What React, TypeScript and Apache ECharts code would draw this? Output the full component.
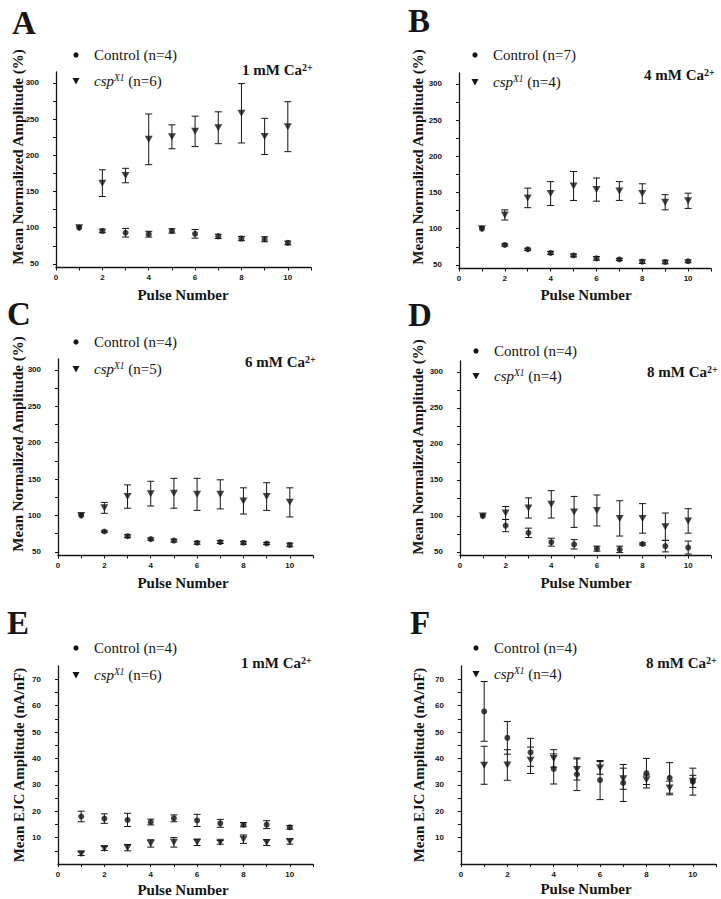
import React, { useEffect, useRef } from "react";
import * as echarts from "echarts";

// ---------- data ----------
const pulses = [1, 2, 3, 4, 5, 6, 7, 8, 9, 10];

// Panel A: 1 mM Ca2+ (normalized %)
const aCtrlMean = [100, 95.5, 93, 91, 95.5, 91.5, 88, 85, 84, 79];
const aCtrlErr = [0, 2.5, 6, 4, 3, 6, 3, 3, 3.5, 2.5];
const aCspMean = [100, 161.5, 172, 222, 225.5, 233, 238, 258, 226, 239.5];
const aCspErr = [0, 18.5, 10, 35, 16.5, 21, 22, 41, 25, 34.5];

// Panel B: 4 mM Ca2+
const bCtrlMean = [100, 77.5, 71.5, 66.5, 63, 59, 57.5, 54.5, 54, 55];
const bCtrlErr = [0, 1.5, 1.5, 2, 2, 2.5, 1.5, 2.5, 2.5, 2];
const bCspMean = [100, 119, 142.5, 148.5, 159, 154, 152, 148.5, 136.5, 138.5];
const bCspErr = [0, 7, 13.5, 16.5, 20, 16, 13, 13.5, 10.5, 10.5];

// Panel C: 6 mM Ca2+
const cCtrlMean = [100, 78, 71.5, 67.5, 65.5, 62.5, 63.5, 62.5, 61.5, 59.5];
const cCtrlErr = [0, 1, 2, 1.5, 2, 2, 2, 2, 1.5, 2.5];
const cCspMean = [100, 110.5, 126, 130, 130.5, 129, 129, 120, 126, 118];
const cCspErr = [0, 7.5, 16, 17, 20.5, 22, 20, 18, 19, 20];

// Panel D: 8 mM Ca2+
const dCtrlMean = [100, 86.5, 76.5, 63.5, 60.5, 54.5, 53.5, 61, 58, 56];
const dCtrlErr = [0, 8.5, 6.5, 5.5, 6.5, 3.5, 4.5, 1.5, 8, 9];
const dCspMean = [100, 104, 111, 116, 105.5, 107.5, 96.5, 96.5, 85, 93];
const dCspErr = [0, 9, 14, 19, 21.5, 21.5, 24.5, 20.5, 19, 17];

// Panel E: 1 mM Ca2+ (EJC nA/nF)
const eCtrlMean = [18, 17.2, 16.7, 15.9, 17.3, 16.5, 15.4, 14.9, 14.9, 13.9];
const eCtrlErr = [2, 1.8, 2.5, 1.1, 1.3, 2.3, 1.5, 0.8, 1.5, 0.7];
const eCspMean = [3.9, 5.9, 6.2, 7.8, 8.2, 8.2, 8.2, 9.4, 8.1, 8.5];
const eCspErr = [0.7, 0.8, 1.2, 1.4, 1.8, 1.2, 0.7, 1.6, 1.1, 1.0];

// Panel F: 8 mM Ca2+ (EJC nA/nF)
const fCtrlMean = [57.8, 47.8, 42.3, 36, 34, 31.8, 30.7, 34.4, 32.6, 31.2];
const fCtrlErr = [11.3, 6.2, 5.3, 5.7, 6.2, 7.4, 7, 5.6, 5.8, 5.1];
const fCspMean = [37.4, 37.5, 39.3, 40, 35.8, 36.4, 32.3, 31.9, 28.8, 31.3];
const fCspErr = [7.2, 5.8, 5, 3.3, 4, 2.4, 4, 1.8, 2.6, 2.3];

const xLabels = [0, 2, 4, 6, 8, 10];
const xTicks = [0, 1, 2, 3, 4, 5, 6, 7, 8, 9, 10, 11];
const normLabels = [50, 100, 150, 200, 250, 300];
const normTicks = [50, 75, 100, 125, 150, 175, 200, 225, 250, 275, 300];
const ejcLabels = [10, 20, 30, 40, 50, 60, 70];
const ejcTicks = [5, 10, 15, 20, 25, 30, 35, 40, 45, 50, 55, 60, 65, 70];

const normTitle = "Mean Normalized Amplitude (%)";
const ejcTitle = "Mean EJC Amplitude (nA/nF)";

// ---------- layout ----------
const SERIF = "'Liberation Serif', 'Times New Roman', serif";
const SANS = "'Liberation Sans', Arial, sans-serif";
const INK = "#151515";

type Panel = {
  letter: string;
  ctrlN: number;
  cspN: number;
  ca: string;
  ctrlMean: number[];
  ctrlErr: number[];
  cspMean: number[];
  cspErr: number[];
  grid: { left: number; top: number; width: number; height: number };
  yMin: number;
  yMax: number;
  yLabels: number[];
  yTicks: number[];
  yTitle: string;
  yTitleX: number;
  yTitleY: number;
  xTitleX: number;
  xTitleY: number;
  letterX: number;
  letterY: number;
  legX: number;
  legY1: number;
  legY2: number;
  caX: number;
  caY: number;
};

const panels: Panel[] = [
  {
    letter: "A", ctrlN: 4, cspN: 6, ca: "1",
    ctrlMean: aCtrlMean, ctrlErr: aCtrlErr, cspMean: aCspMean, cspErr: aCspErr,
    grid: { left: 56, top: 72, width: 255, height: 195.5 },
    yMin: 45, yMax: 315, yLabels: normLabels, yTicks: normTicks, yTitle: normTitle,
    yTitleX: 18, yTitleY: 157, xTitleX: 183, xTitleY: 295,
    letterX: 24, letterY: 23, legX: 76, legY1: 55, legY2: 81, caX: 242, caY: 70,
  },
  {
    letter: "B", ctrlN: 7, cspN: 4, ca: "4",
    ctrlMean: bCtrlMean, ctrlErr: bCtrlErr, cspMean: bCspMean, cspErr: bCspErr,
    grid: { left: 459, top: 73, width: 252, height: 195.5 },
    yMin: 45, yMax: 315, yLabels: normLabels, yTicks: normTicks, yTitle: normTitle,
    yTitleX: 418, yTitleY: 157, xTitleX: 586, xTitleY: 295,
    letterX: 419, letterY: 21, legX: 475, legY1: 55, legY2: 82, caX: 644, caY: 75,
  },
  {
    letter: "C", ctrlN: 4, cspN: 5, ca: "6",
    ctrlMean: cCtrlMean, ctrlErr: cCtrlErr, cspMean: cCspMean, cspErr: cCspErr,
    grid: { left: 58, top: 359, width: 255, height: 196.5 },
    yMin: 45, yMax: 315, yLabels: normLabels, yTicks: normTicks, yTitle: normTitle,
    yTitleX: 18, yTitleY: 444, xTitleX: 183, xTitleY: 583,
    letterX: 19, letterY: 314, legX: 76, legY1: 342, legY2: 369, caX: 245, caY: 362,
  },
  {
    letter: "D", ctrlN: 4, cspN: 4, ca: "8",
    ctrlMean: dCtrlMean, ctrlErr: dCtrlErr, cspMean: dCspMean, cspErr: dCspErr,
    grid: { left: 460, top: 361, width: 251, height: 194.5 },
    yMin: 45, yMax: 315, yLabels: normLabels, yTicks: normTicks, yTitle: normTitle,
    yTitleX: 418, yTitleY: 447, xTitleX: 586, xTitleY: 583,
    letterX: 420, letterY: 315, legX: 476, legY1: 351, legY2: 376, caX: 647, caY: 372,
  },
  {
    letter: "E", ctrlN: 4, cspN: 6, ca: "1",
    ctrlMean: eCtrlMean, ctrlErr: eCtrlErr, cspMean: eCspMean, cspErr: eCspErr,
    grid: { left: 58, top: 666, width: 255, height: 198 },
    yMin: 0, yMax: 75, yLabels: ejcLabels, yTicks: ejcTicks, yTitle: ejcTitle,
    yTitleX: 19, yTitleY: 765, xTitleX: 183, xTitleY: 890,
    letterX: 18, letterY: 623, legX: 76, legY1: 648, legY2: 675, caX: 241, caY: 663,
  },
  {
    letter: "F", ctrlN: 4, cspN: 4, ca: "8",
    ctrlMean: fCtrlMean, ctrlErr: fCtrlErr, cspMean: fCspMean, cspErr: fCspErr,
    grid: { left: 461, top: 666, width: 255, height: 198 },
    yMin: 0, yMax: 75, yLabels: ejcLabels, yTicks: ejcTicks, yTitle: ejcTitle,
    yTitleX: 419, yTitleY: 765, xTitleX: 586, xTitleY: 889,
    letterX: 420, letterY: 623, legX: 476, legY1: 648, legY2: 674, caX: 646, caY: 663,
  },
];

function errRender(params: any, api: any) {
  const x = api.value(0);
  const m = api.value(1);
  const e = api.value(2);
  if (!e) return { type: "group", children: [] };
  const top = api.coord([x, m + e]);
  const bot = api.coord([x, m - e]);
  const w = 3.5;
  const style = { stroke: INK, lineWidth: 1 };
  return {
    type: "group",
    children: [
      { type: "line", shape: { x1: top[0], y1: top[1], x2: bot[0], y2: bot[1] }, style },
      { type: "line", shape: { x1: top[0] - w, y1: top[1], x2: top[0] + w, y2: top[1] }, style },
      { type: "line", shape: { x1: bot[0] - w, y1: bot[1], x2: bot[0] + w, y2: bot[1] }, style },
    ],
  };
}

function buildOption() {
  const grid: any[] = [];
  const xAxis: any[] = [];
  const yAxis: any[] = [];
  const series: any[] = [];
  const graphic: any[] = [];

  panels.forEach((p, i) => {
    grid.push({ ...p.grid, containLabel: false });
    xAxis.push({
      type: "value",
      gridIndex: i,
      min: 0,
      max: 11,
      axisLine: { onZero: false, lineStyle: { color: INK, width: 1.3 } },
      axisTick: { show: true, inside: false, length: 3, customValues: xTicks, lineStyle: { color: INK } },
      axisLabel: {
        customValues: xLabels,
        margin: 6,
        fontSize: 8,
        fontWeight: "bold",
        fontFamily: SANS,
        color: INK,
      },
      splitLine: { show: false },
    });
    yAxis.push({
      type: "value",
      gridIndex: i,
      min: p.yMin,
      max: p.yMax,
      axisLine: { show: true, onZero: false, lineStyle: { color: INK, width: 1.3 } },
      axisTick: { show: true, inside: false, length: 3, customValues: p.yTicks, lineStyle: { color: INK } },
      axisLabel: {
        customValues: p.yLabels,
        margin: 17,
        fontSize: 8,
        fontWeight: "bold",
        fontFamily: SANS,
        color: INK,
      },
      splitLine: { show: false },
    });

    const ctrlData = pulses.map((x, k) => [x, p.ctrlMean[k], p.ctrlErr[k]]);
    const cspData = pulses.map((x, k) => [x, p.cspMean[k], p.cspErr[k]]);

    series.push({
      type: "custom",
      name: `ctrlErr${i}`,
      xAxisIndex: i,
      yAxisIndex: i,
      renderItem: errRender,
      encode: { x: 0, y: 1 },
      data: ctrlData,
      z: 2,
      silent: true,
    });
    series.push({
      type: "custom",
      name: `cspErr${i}`,
      xAxisIndex: i,
      yAxisIndex: i,
      renderItem: errRender,
      encode: { x: 0, y: 1 },
      data: cspData,
      z: 2,
      silent: true,
    });
    series.push({
      type: "scatter",
      name: `Control (n=${p.ctrlN})`,
      xAxisIndex: i,
      yAxisIndex: i,
      symbol: "circle",
      symbolSize: 6,
      itemStyle: { color: INK },
      data: pulses.map((x, k) => [x, p.ctrlMean[k]]),
      z: 3,
    });
    series.push({
      type: "scatter",
      name: `cspX1 (n=${p.cspN})`,
      xAxisIndex: i,
      yAxisIndex: i,
      symbol: "triangle",
      symbolRotate: 180,
      symbolSize: [8, 7],
      itemStyle: { color: INK },
      data: pulses.map((x, k) => [x, p.cspMean[k]]),
      z: 4,
    });

    // panel letter
    graphic.push({
      type: "text",
      x: p.letterX,
      y: p.letterY,
      style: {
        text: p.letter,
        font: `bold 33px ${SERIF}`,
        fill: INK,
        align: "center",
        verticalAlign: "middle",
      },
    });
    // legend
    graphic.push({
      type: "circle",
      shape: { cx: p.legX, cy: p.legY1, r: 2.6 },
      style: { fill: INK },
    });
    graphic.push({
      type: "polygon",
      shape: {
        points: [
          [p.legX - 3.5, p.legY2 - 3],
          [p.legX + 3.5, p.legY2 - 3],
          [p.legX, p.legY2 + 3.5],
        ],
      },
      style: { fill: INK },
    });
    graphic.push({
      type: "text",
      x: p.legX + 18,
      y: p.legY1,
      style: {
        text: `Control (n=${p.ctrlN})`,
        font: `15px ${SERIF}`,
        fill: INK,
        align: "left",
        verticalAlign: "middle",
      },
    });
    graphic.push({
      type: "text",
      x: p.legX + 18,
      y: p.legY2,
      style: {
        text: `{i|csp}{s|X1}{n| (n=${p.cspN})}`,
        align: "left",
        verticalAlign: "middle",
        fill: INK,
        rich: {
          i: { fontFamily: SERIF, fontStyle: "italic", fontSize: 15, lineHeight: 16, fill: INK },
          s: { fontFamily: SERIF, fontStyle: "italic", fontSize: 9.5, lineHeight: 16, verticalAlign: "top", fill: INK },
          n: { fontFamily: SERIF, fontSize: 15, lineHeight: 16, fill: INK },
        },
      },
    });
    // Ca concentration label
    graphic.push({
      type: "text",
      x: p.caX,
      y: p.caY,
      style: {
        text: `{b|${p.ca} mM Ca}{s|2+}`,
        align: "left",
        verticalAlign: "middle",
        fill: INK,
        rich: {
          b: { fontFamily: SERIF, fontWeight: "bold", fontSize: 15, lineHeight: 16, fill: INK },
          s: { fontFamily: SERIF, fontWeight: "bold", fontSize: 10, lineHeight: 16, verticalAlign: "top", fill: INK },
        },
      },
    });
    // y axis title
    graphic.push({
      type: "text",
      x: p.yTitleX,
      y: p.yTitleY,
      rotation: Math.PI / 2,
      style: {
        text: p.yTitle,
        font: `bold 15px ${SERIF}`,
        fill: INK,
        align: "center",
        verticalAlign: "middle",
      },
    });
    // x axis title
    graphic.push({
      type: "text",
      x: p.xTitleX,
      y: p.xTitleY,
      style: {
        text: "Pulse Number",
        font: `bold 15px ${SERIF}`,
        fill: INK,
        align: "center",
        verticalAlign: "middle",
      },
    });
  });

  return {
    animation: false,
    backgroundColor: "#ffffff",
    grid,
    xAxis,
    yAxis,
    series,
    graphic,
  };
}

export default function App() {
  const ref = useRef<HTMLDivElement>(null);
  useEffect(() => {
    if (!ref.current) return;
    const chart = echarts.init(ref.current, undefined, { renderer: "svg" });
    chart.setOption(buildOption() as any);
    return () => chart.dispose();
  }, []);
  return (
    <div
      ref={ref}
      style={{ position: "absolute", left: 0, top: 0, width: 721, height: 899, background: "#fff" }}
    />
  );
}
